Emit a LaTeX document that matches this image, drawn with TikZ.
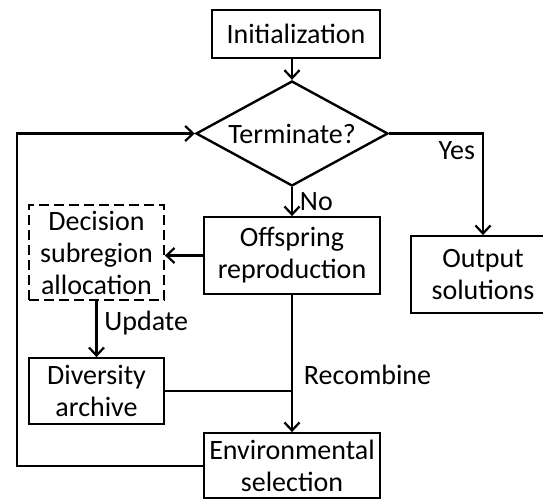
\documentclass[tikz,border=0pt]{standalone}
\usepackage{fontspec}
\setmainfont{Carlito}
\usepackage{tikz}
\usetikzlibrary{shapes.geometric, arrows.meta, positioning}
\tikzset{
    block/.style={rectangle, draw, line width=0.9pt, align=center, inner sep=0pt, minimum width=88pt, minimum height=38.5pt},
    dashblock/.style={block, dash pattern=on 5pt off 2.5pt},
    decision/.style={diamond, draw, line width=1.2pt, align=center, inner sep=0pt, aspect=1.83, minimum width=96pt, minimum height=52.5pt},
    arrow/.style={line width=1.3pt, -{Straight Barb[length=4pt, width=7.5pt, line width=1.1pt]}},
    line/.style={line width=1.3pt}
}

\begin{document}
\begin{tikzpicture}[x=0.5pt, y=-0.5pt, font=\fontsize{14}{16}\selectfont]

    \clip (0,0) rectangle (543,499);

    % Nodes
    \node[block, minimum width=84pt, minimum height=24pt] (Init) at (296,34) {Initialization};
    \node[decision] (Term) at (292,133.5) {Terminate?};
    \node[block] (Off) at (292,255.5) {Offspring\\reproduction};
    \node[dashblock, minimum width=67.5pt, minimum height=47.5pt] (Dec) at (96.5,252.5) {Decision\\subregion\\allocation};
    \node[block, minimum width=67.5pt, minimum height=33pt] (Div) at (96.5,391) {Diversity\\archive};
    \node[block, minimum height=32.5pt] (Env) at (292,465.5) {Environmental\\selection};
    \node[block, minimum width=72pt] (Out) at (483,274.5) {Output\\solutions};

    % Arrows
    \draw[arrow] (Init.south -| Term.north) -- (Term.north);
    \draw[arrow] (Term.south) -- node[right] {No} (Off.north);
    \draw[arrow] (Term.east) -| node[pos=0.5, below left] {Yes} (Out.north);
    \draw[arrow] (Off.west) -- (Off.west -| Dec.east);
    \draw[arrow] (Dec.south) -- node[right, pos=0.4] {Update} (Div.north);
    \draw[arrow] (Off.south) -- node[right, pos=0.58, xshift=2pt] {Recombine} (Env.north);
    \draw[line] (Div.east) -- (Div.east -| Off.south);

    % Loop back
    \coordinate (Back) at (17,466);
    \draw[arrow] (Env.west |- Back) -- (Back) |- (Term.west);

\end{tikzpicture}
\end{document}
